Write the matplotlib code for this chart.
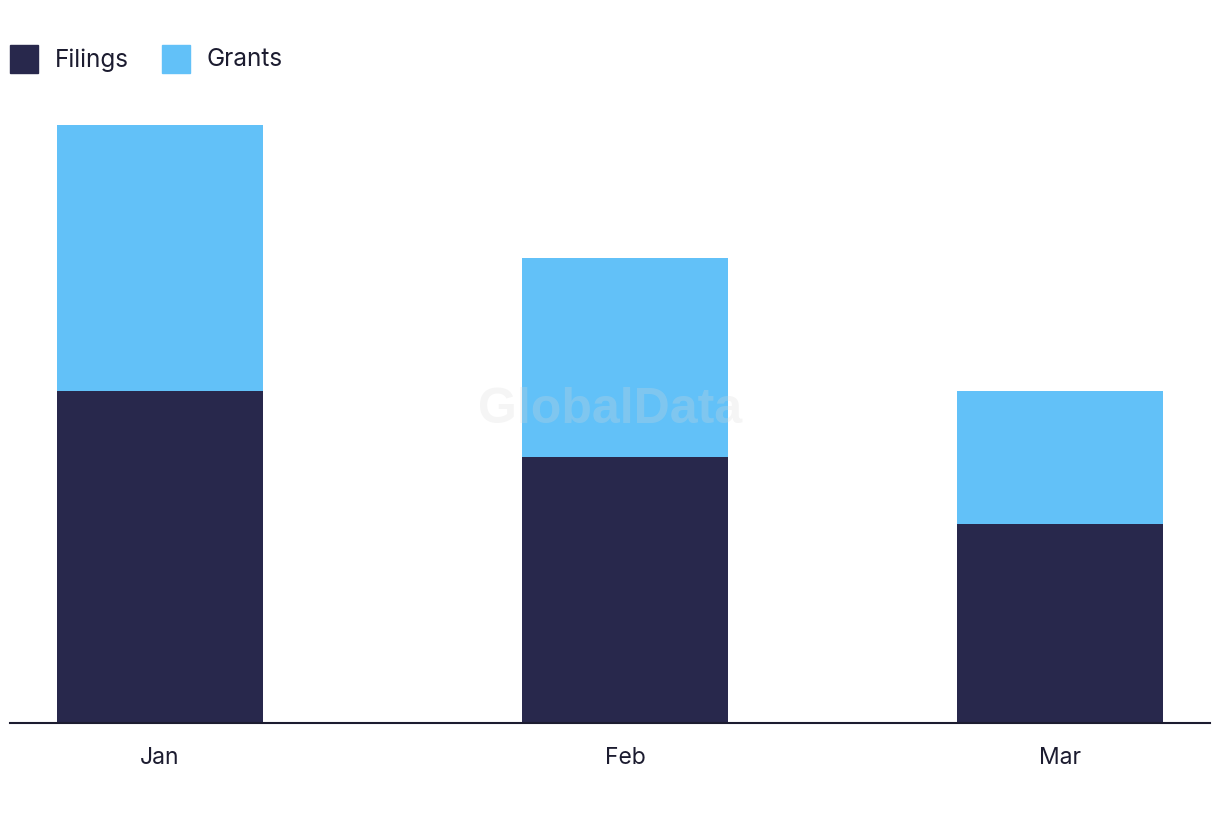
import matplotlib
matplotlib.use("Agg")
import matplotlib.pyplot as plt
from matplotlib.patches import Rectangle
import pandas as pd

months = ["2024-01-01", "2024-02-01", "2024-03-01"]
tick_labels = ["Jan", "Feb", "Mar"]
series_names = ["Filings", "Grants"]
filings = [5, 4, 3]
grants = [4, 3, 2]

navy = "#28284c"
blue = "#62c1f8"
text_c = "#1c1c30"

plt.rcParams["font.family"] = ["Inter", "DejaVu Sans"]

W, H = 1220, 822
fig = plt.figure(figsize=(12.2, 8.22), dpi=100)
ax = fig.add_axes([10/W, 99/H, 1200/W, 664/H])

x = pd.to_datetime(months)
width = 13.73
ax.bar(x, filings, width=width, color=navy, label=series_names[0], zorder=2)
ax.bar(x, grants, bottom=filings, width=width, color=blue, label=series_names[1], zorder=2)

ax.set_xlim(pd.Timestamp("2023-12-22"), pd.Timestamp("2024-03-11"))
ax.set_ylim(0, 10)
ax.set_xticks(x)
ax.set_xticklabels(tick_labels)
ax.set_yticks([])
for s in ["top", "right", "left"]:
    ax.spines[s].set_visible(False)
ax.spines["bottom"].set_color(text_c)
ax.spines["bottom"].set_linewidth(1.5)
ax.tick_params(axis="x", length=0, pad=17, labelsize=16.5, labelcolor=text_c)

fig.text(0.5, (H - 410) / H, "GlobalData", ha="center", va="center",
         fontsize=36, fontweight="bold", family="Liberation Sans",
         color="#d8d8d8", alpha=0.25, zorder=5)

# legend (custom placed)
legend_items = [(series_names[0], navy, 10), (series_names[1], blue, 162)]
for name, col, px in legend_items:
    fig.add_artist(Rectangle((px / W, (H - 73) / H), 28 / W, 28 / H,
                             transform=fig.transFigure, color=col))
    fig.text((px + 45) / W, (H - 60) / H, name, ha="left", va="center",
             fontsize=17.5, color=text_c)

fig.savefig("out.png", dpi=100, facecolor="white")
